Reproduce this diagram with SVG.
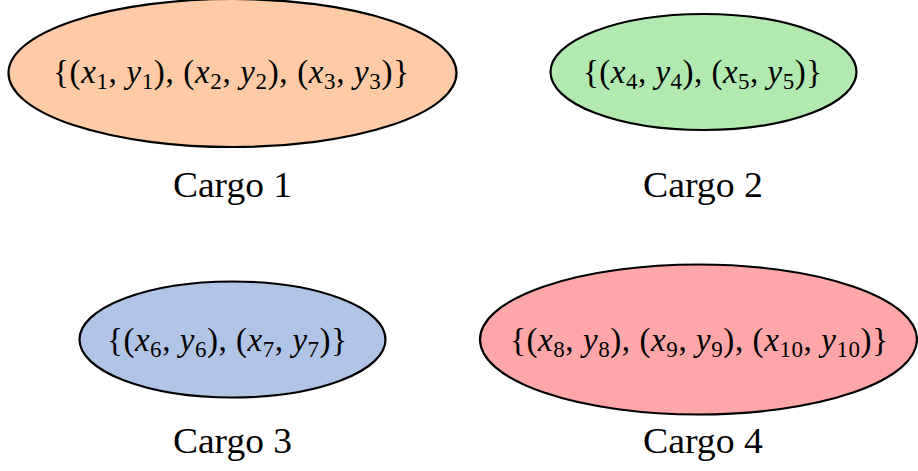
<svg xmlns="http://www.w3.org/2000/svg" width="918" height="471" viewBox="0 0 918 471">
<style>
.node{stroke:#000;stroke-width:2.2}
.math{font-family:"Liberation Serif","Times New Roman",serif;font-size:33px;fill:#000;text-anchor:middle}
.i{font-style:italic}
.s{font-size:23px}
.lbl{font-family:"Liberation Serif","Times New Roman",serif;font-size:36px;fill:#000;text-anchor:middle}
</style>
<g id="connectors"></g>
<g id="cargo1">
<ellipse class="node" cx="232.5" cy="73" rx="224" ry="74" fill="#fecba6"/>
<text class="math" x="231" y="83" textLength="356" lengthAdjust="spacing">{(<tspan class="i">x</tspan><tspan class="s" dy="6">1</tspan><tspan dy="-6">, </tspan><tspan class="i">y</tspan><tspan class="s" dy="6">1</tspan><tspan dy="-6">), (</tspan><tspan class="i">x</tspan><tspan class="s" dy="6">2</tspan><tspan dy="-6">, </tspan><tspan class="i">y</tspan><tspan class="s" dy="6">2</tspan><tspan dy="-6">), (</tspan><tspan class="i">x</tspan><tspan class="s" dy="6">3</tspan><tspan dy="-6">, </tspan><tspan class="i">y</tspan><tspan class="s" dy="6">3</tspan><tspan dy="-6">)}</tspan></text>
<text class="lbl" x="232.5" y="197" textLength="119" lengthAdjust="spacingAndGlyphs">Cargo 1</text>
</g>
<g id="cargo2">
<ellipse class="node" cx="703.5" cy="72" rx="153" ry="58" fill="#b1e9b1"/>
<text class="math" x="702.5" y="83" textLength="239" lengthAdjust="spacing">{(<tspan class="i">x</tspan><tspan class="s" dy="6">4</tspan><tspan dy="-6">, </tspan><tspan class="i">y</tspan><tspan class="s" dy="6">4</tspan><tspan dy="-6">), (</tspan><tspan class="i">x</tspan><tspan class="s" dy="6">5</tspan><tspan dy="-6">, </tspan><tspan class="i">y</tspan><tspan class="s" dy="6">5</tspan><tspan dy="-6">)}</tspan></text>
<text class="lbl" x="703" y="197" textLength="120" lengthAdjust="spacingAndGlyphs">Cargo 2</text>
</g>
<g id="cargo3">
<ellipse class="node" cx="232.5" cy="339.5" rx="153" ry="58" fill="#b0c4e6"/>
<text class="math" x="227" y="351" textLength="240" lengthAdjust="spacing">{(<tspan class="i">x</tspan><tspan class="s" dy="6">6</tspan><tspan dy="-6">, </tspan><tspan class="i">y</tspan><tspan class="s" dy="6">6</tspan><tspan dy="-6">), (</tspan><tspan class="i">x</tspan><tspan class="s" dy="6">7</tspan><tspan dy="-6">, </tspan><tspan class="i">y</tspan><tspan class="s" dy="6">7</tspan><tspan dy="-6">)}</tspan></text>
<text class="lbl" x="232.5" y="453" textLength="119" lengthAdjust="spacingAndGlyphs">Cargo 3</text>
</g>
<g id="cargo4">
<ellipse class="node" cx="698.5" cy="339.5" rx="218.5" ry="75" fill="#ffa6a8"/>
<text class="math" x="699" y="351" textLength="378" lengthAdjust="spacing">{(<tspan class="i">x</tspan><tspan class="s" dy="6">8</tspan><tspan dy="-6">, </tspan><tspan class="i">y</tspan><tspan class="s" dy="6">8</tspan><tspan dy="-6">), (</tspan><tspan class="i">x</tspan><tspan class="s" dy="6">9</tspan><tspan dy="-6">, </tspan><tspan class="i">y</tspan><tspan class="s" dy="6">9</tspan><tspan dy="-6">), (</tspan><tspan class="i">x</tspan><tspan class="s" dy="6">10</tspan><tspan dy="-6">, </tspan><tspan class="i">y</tspan><tspan class="s" dy="6">10</tspan><tspan dy="-6">)}</tspan></text>
<text class="lbl" x="703" y="453" textLength="120" lengthAdjust="spacingAndGlyphs">Cargo 4</text>
</g>
</svg>
